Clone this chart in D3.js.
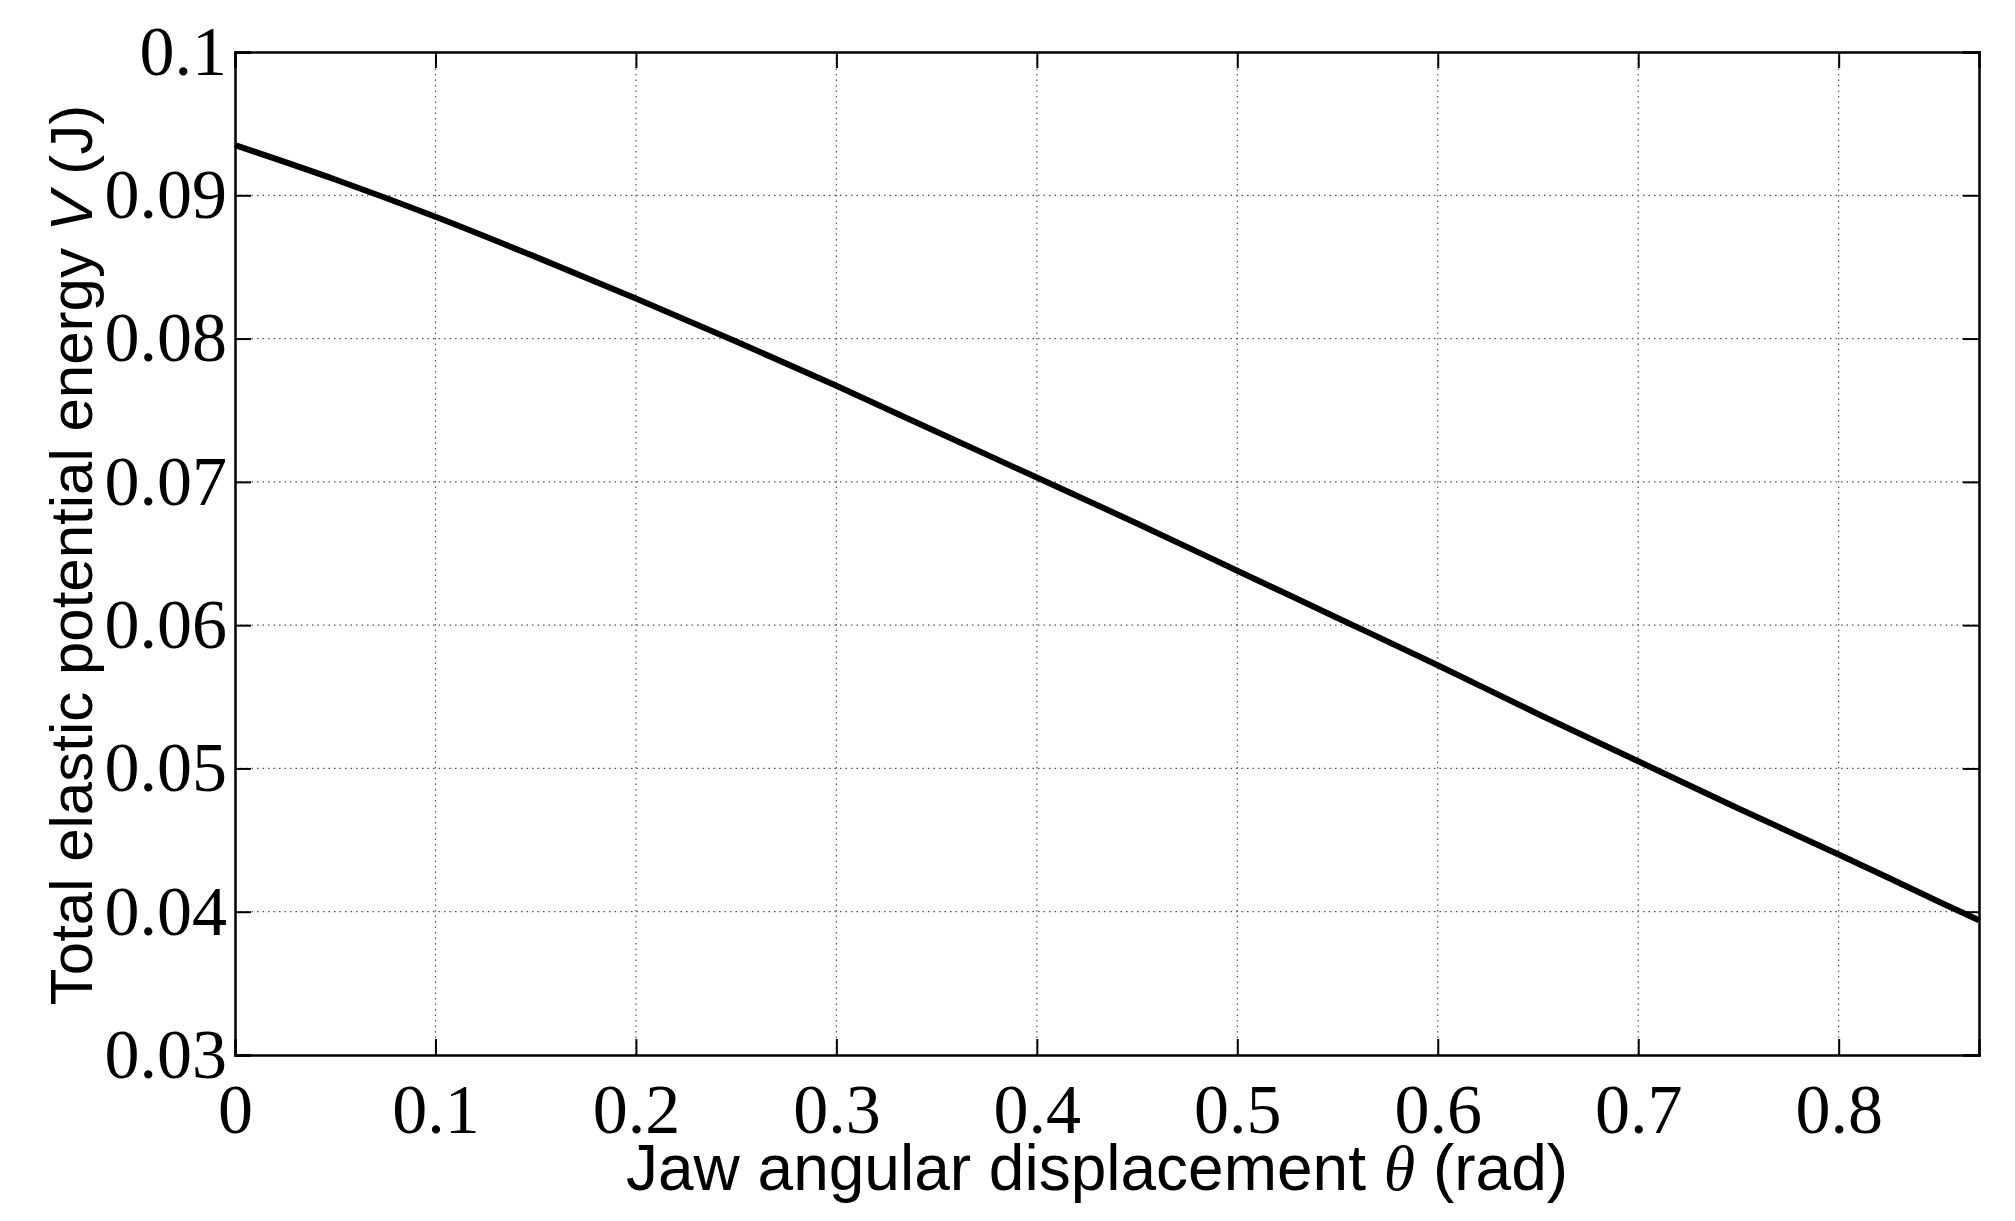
<!DOCTYPE html>
<html>
<head>
<meta charset="utf-8">
<script src="https://cdn.jsdelivr.net/npm/d3@7"></script>
<style>
  body { margin: 0; background: #fff; }
</style>
</head>
<body>
<div id="chart"></div>
<script>
// data
const theta = [0, 0.05, 0.1, 0.15, 0.2, 0.25, 0.3, 0.35, 0.4, 0.45, 0.5, 0.55, 0.6, 0.65, 0.7, 0.75, 0.8, 0.85, 0.87];
const energy = [0.0935, 0.0911, 0.0885, 0.0857, 0.0828, 0.0798, 0.0767, 0.0735, 0.0703, 0.0671, 0.0638, 0.0605, 0.0572, 0.0538, 0.0505, 0.0472, 0.0440, 0.0407, 0.0394];
const xTicks = [0, 0.1, 0.2, 0.3, 0.4, 0.5, 0.6, 0.7, 0.8];
const yTicks = [0.03, 0.04, 0.05, 0.06, 0.07, 0.08, 0.09, 0.1];

const W = 2015, H = 1221;
const m = { left: 235, right: 36, top: 52, bottom: 166 };

const svg = d3.select("#chart").append("svg")
  .attr("width", W).attr("height", H);

const x = d3.scaleLinear().domain([0, 0.87]).range([m.left, W - m.right]);
const y = d3.scaleLinear().domain([0.03, 0.1]).range([H - m.bottom, m.top]);

// grid
svg.selectAll(".gx").data(xTicks.slice(1)).enter().append("line")
  .attr("x1", d => x(d)).attr("x2", d => x(d))
  .attr("y1", y(0.1)).attr("y2", y(0.03))
  .attr("stroke", "#555").attr("stroke-width", 1.2).attr("stroke-dasharray", "1.5,4");
svg.selectAll(".gy").data(yTicks.slice(1, -1)).enter().append("line")
  .attr("x1", x(0)).attr("x2", x(0.87))
  .attr("y1", d => y(d)).attr("y2", d => y(d))
  .attr("stroke", "#555").attr("stroke-width", 1.2).attr("stroke-dasharray", "1.5,4");

// axes
const xAxis = svg.append("g").attr("transform", `translate(0,${y(0.03)})`)
  .call(d3.axisBottom(x).tickValues(xTicks).tickSize(-16).tickPadding(28).tickFormat(d3.format("")));
const xTop = svg.append("g").attr("transform", `translate(0,${y(0.1)})`)
  .call(d3.axisTop(x).tickValues(xTicks).tickSize(-16).tickFormat(""));
const yAxis = svg.append("g").attr("transform", `translate(${x(0)},0)`)
  .call(d3.axisLeft(y).tickValues(yTicks).tickSize(-16).tickPadding(8).tickFormat(d3.format("")));
const yRight = svg.append("g").attr("transform", `translate(${x(0.87)},0)`)
  .call(d3.axisRight(y).tickValues(yTicks).tickSize(-16).tickFormat(""));

[xAxis, xTop, yAxis, yRight].forEach(g => {
  g.selectAll("path").attr("stroke", "#000").attr("stroke-width", 2.5);
  g.selectAll("line").attr("stroke", "#000").attr("stroke-width", 2);
  g.selectAll("text").attr("fill", "#000")
    .style("font-family", "'Liberation Serif', 'Times New Roman', serif")
    .style("font-size", "70px");
});

// curve
const pts = theta.map((t, i) => [t, energy[i]]);
svg.append("path").datum(pts)
  .attr("fill", "none").attr("stroke", "#000").attr("stroke-width", 6)
  .attr("d", d3.line().x(d => x(d[0])).y(d => y(d[1])).curve(d3.curveMonotoneX));

// labels
const xl = svg.append("text").attr("x", 1097).attr("y", 1190).attr("text-anchor", "middle")
  .style("font-family", "'Liberation Sans', Arial, sans-serif").style("font-size", "64px")
  .text("Jaw angular displacement ");
xl.append("tspan").style("font-family", "'Liberation Serif', serif").style("font-style", "italic").text("θ");
xl.append("tspan").text(" (rad)");

const yl = svg.append("text").attr("transform", `translate(92,${555}) rotate(-90)`).attr("text-anchor", "middle")
  .style("font-family", "'Liberation Sans', Arial, sans-serif").style("font-size", "60px")
  .text("Total elastic potential energy ");
yl.append("tspan").style("font-style", "italic").text("V");
yl.append("tspan").text(" (J)");
</script>
</body>
</html>
